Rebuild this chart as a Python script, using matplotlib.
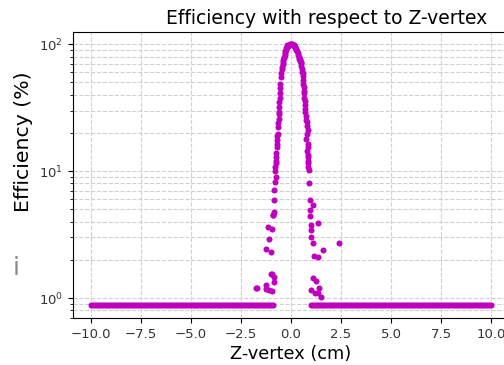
import matplotlib
matplotlib.use("Agg")
import matplotlib.pyplot as plt

# z-vertex grid (cm) where the efficiency sits on the floor value
floor_z_left = [
    -10.0, -9.9, -9.8, -9.7, -9.6, -9.5, -9.4, -9.3, -9.2, -9.1,
    -9.0, -8.9, -8.8, -8.7, -8.6, -8.5, -8.4, -8.3, -8.2, -8.1,
    -8.0, -7.9, -7.8, -7.7, -7.6, -7.5, -7.4, -7.3, -7.2, -7.1,
    -7.0, -6.9, -6.8, -6.7, -6.6, -6.5, -6.4, -6.3, -6.2, -6.1,
    -6.0, -5.9, -5.8, -5.7, -5.6, -5.5, -5.4, -5.3, -5.2, -5.1,
    -5.0, -4.9, -4.8, -4.7, -4.6, -4.5, -4.4, -4.3, -4.2, -4.1,
    -4.0, -3.9, -3.8, -3.7, -3.6, -3.5, -3.4, -3.3, -3.2, -3.1,
    -3.0, -2.9, -2.8, -2.7, -2.6, -2.5, -2.4, -2.3, -2.2, -2.1,
    -2.0, -1.9, -1.8, -1.7, -1.6, -1.5, -1.4, -1.3, -1.2, -1.1,
    -1.0, -0.9,
]
floor_z_right = [
    1.0, 1.1, 1.2, 1.3, 1.4, 1.5, 1.6, 1.7, 1.8, 1.9,
    2.0, 2.1, 2.2, 2.3, 2.4, 2.5, 2.6, 2.7, 2.8, 2.9,
    3.0, 3.1, 3.2, 3.3, 3.4, 3.5, 3.6, 3.7, 3.8, 3.9,
    4.0, 4.1, 4.2, 4.3, 4.4, 4.5, 4.6, 4.7, 4.8, 4.9,
    5.0, 5.1, 5.2, 5.3, 5.4, 5.5, 5.6, 5.7, 5.8, 5.9,
    6.0, 6.1, 6.2, 6.3, 6.4, 6.5, 6.6, 6.7, 6.8, 6.9,
    7.0, 7.1, 7.2, 7.3, 7.4, 7.5, 7.6, 7.7, 7.8, 7.9,
    8.0, 8.1, 8.2, 8.3, 8.4, 8.5, 8.6, 8.7, 8.8, 8.9,
    9.0, 9.1, 9.2, 9.3, 9.4, 9.5, 9.6, 9.7, 9.8, 9.9,
    10.0,
]
floor_eff = 0.88

# peak region around z = 0
peak_z = [-1.75, -1.7, -1.25, -1.25, -1.1, -0.95, -0.85, -0.83, -0.92, -1.0,
          -1.25, -0.97, -1.08, -0.93, -1.13, -0.87, -0.91, -0.85, -0.83, -0.83,
          -0.8, -0.75, -0.78, -0.75, -0.72, -0.7, -0.7, -0.66, -0.63, -0.6,
          -0.58, -0.58, -0.55, -0.53, -0.5, -0.45, -0.41, -0.37, -0.33, -0.29,
          -0.25, -0.2, -0.17, -0.1, -0.05, 0.0, 0.05, 0.1, 0.17, 0.22, 0.25,
          0.3, 0.33, 0.38, 0.41, 0.46, 0.5, 0.55, 0.58, 0.6, 0.63, 0.66, 0.68,
          0.7, 0.75, 0.8, 0.83, 0.75, 0.85, 0.86, 0.86, 0.85, 0.86, 0.9, 0.91,
          0.96, 1.08, 0.93, 0.95, 1.36, 0.98, 1.0, 1.0, 1.08, 1.58, 1.16, 1.36,
          2.41, 1.08, 1.25, 1.0, 1.36, 1.5, 1.41, 1.2,
          -0.78, -0.76, -0.74, -0.71, -0.68, -0.65, -0.61, -0.57, -0.56, -0.52,
          -0.48, -0.43, -0.39, -0.35, -0.31, -0.27, -0.22, -0.14, -0.07,
          0.03, 0.08, 0.13, 0.2, 0.27, 0.35, 0.43, 0.48, 0.52, 0.57, 0.6,
          0.62, 0.65, 0.67, 0.69, 0.72, 0.77, 0.8, 0.82, 0.84, 0.8, 0.84]
peak_eff = [1.2, 1.19, 1.27, 1.17, 1.16, 1.14, 1.34, 1.47, 1.55, 1.56,
            2.42, 2.3, 2.9, 3.47, 3.6, 4.5, 4.5, 4.8, 5.9, 7.1,
            8.2, 9.0, 10.8, 12.0, 13.8, 15.5, 17.5, 19.8, 22.4, 26.0,
            29.0, 35.0, 41.0, 49.0, 59.0, 64.0, 70.0, 75.0, 79.0, 85.0,
            90.0, 95.0, 98.0, 99.5, 100.0, 100.0, 99.5, 99.0, 98.0, 95.0, 92.0,
            88.0, 85.0, 80.0, 77.0, 74.0, 70.6, 64.0, 59.0, 52.0, 46.0, 41.0, 36.0,
            31.0, 27.0, 24.4, 21.0, 18.0, 15.5, 12.9, 10.8, 13.4, 11.5, 10.2, 8.0,
            5.9, 5.4, 4.9, 4.4, 3.87, 3.75, 3.43, 3.0, 2.7, 2.39, 2.14, 2.11,
            2.73, 1.43, 1.37, 1.16, 1.09, 1.02, 1.19, 1.1,
            10.0, 11.5, 13.0, 16.5, 19.0, 24.0, 28.0, 32.0, 38.0, 45.0,
            55.0, 66.0, 72.0, 78.0, 83.0, 88.0, 93.0, 97.0, 99.0,
            100.0, 99.5, 98.5, 96.0, 90.0, 83.0, 76.0, 72.0, 67.0, 61.0, 56.0,
            49.0, 43.0, 38.0, 33.0, 29.0, 25.5, 22.5, 19.5, 16.5, 14.5, 12.0]

xticks = [-10.0, -7.5, -5.0, -2.5, 0.0, 2.5, 5.0, 7.5, 10.0]

fig = plt.figure(figsize=(5.04, 3.65), dpi=100)
ax = fig.add_axes([72.7 / 504, (365 - 318.3) / 365, 436.4 / 504, 286 / 365])

z_all = floor_z_left + peak_z + floor_z_right
eff_all = [floor_eff] * len(floor_z_left) + peak_eff + [floor_eff] * len(floor_z_right)
ax.scatter(z_all, eff_all, s=19, color="m", linewidths=0, zorder=3)

ax.set_yscale("log")
ax.set_xlim(-10.9, 10.9)
ax.set_ylim(0.692, 124.3)
ax.set_xticks(xticks)
ax.grid(True, which="major", linestyle="--", color="#d0d0d0", linewidth=0.8)
ax.grid(True, which="minor", axis="y", linestyle="--", color="#d0d0d0", linewidth=0.8)
ax.tick_params(labelsize=9.5, colors="#333333")
ax.tick_params(axis="both", which="both", color="black")

ax.set_title("Efficiency with respect to Z-vertex", fontsize=13.5, x=0.582)
ax.set_xlabel("Z-vertex (cm)", fontsize=12.8, labelpad=3)
ax.set_ylabel("Efficiency (%)", fontsize=14.7)
ax.yaxis.set_label_coords(-0.090, 0.617)
fig.text(13 / 504, 1 - 275 / 365, "i", fontsize=18, color="#8a8a8a")

fig.savefig("out.png", dpi=100)
